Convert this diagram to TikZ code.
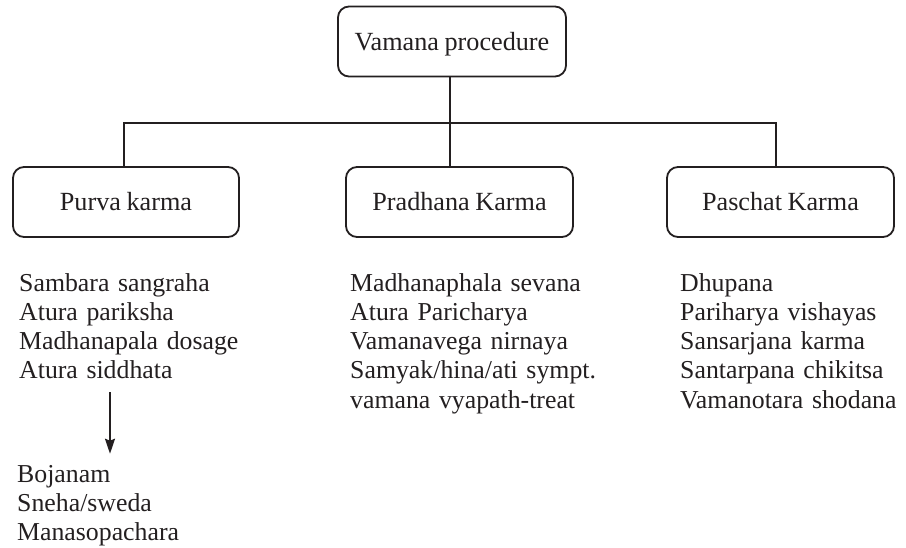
\documentclass[tikz,border=0pt]{standalone}
\usepackage{fontspec}
\setmainfont{Liberation Serif}[WordSpace=0.85]
\usetikzlibrary{arrows.meta}
\definecolor{ink}{HTML}{231F20}
\begin{document}
\begin{tikzpicture}[x=1pt,y=-1pt,
  every node/.style={text=ink},
  stage/.style={draw=ink, line width=1.8pt, rounded corners=11pt,
    minimum height=70pt, inner sep=0pt,
    font=\fontsize{26.2}{29.3}\selectfont, text height=17.5pt, text depth=0pt},
  itemlist/.style={anchor=base west, inner sep=0pt, text width=400pt, align=left,
    font=\fontsize{25.8}{29.3}\selectfont},
  link/.style={draw=ink, line width=1.8pt},
  flow/.style={link, -{Stealth[length=15pt,width=10pt,inset=2pt]},
    shorten <=13pt, shorten >=11pt}]
\useasboundingbox (0,0) rectangle (906,547);

% boxes
\node[stage, minimum width=228pt] (top) at (452,41.5) {Vamana procedure};
\node[stage, minimum width=226pt] (purva) at (126,202) {Purva karma};
\node[stage, minimum width=227pt] (pradhana) at (459.5,202) {Pradhana Karma};
\node[stage, minimum width=227pt] (paschat) at (780.5,202) {Paschat Karma};

% bus junctions
\coordinate (jL) at (124,123);
\coordinate (jM) at (450,123);
\coordinate (jR) at (776,123);

\draw[link] (jM |- top.south) -- (jM);
\draw[link] (jL |- purva.north) -- (jL) -- (jR) -- (jR |- paschat.north);
\draw[link] (jM) -- (jM |- pradhana.north);

% item lists (one line per entry)
\node[itemlist] (purvalist) at (19,291) {Sambara sangraha\\Atura pariksha\\Madhanapala dosage\\Atura siddhata};
\node[itemlist] (pradhanalist) at (350,291) {Madhanaphala sevana\\Atura Paricharya\\Vamanavega nirnaya\\Samyak/hina/ati sympt.\\vamana vyapath-treat};
\node[itemlist] (paschatlist) at (680,291) {Dhupana\\Pariharya vishayas\\Sansarjana karma\\Santarpana chikitsa\\Vamanotara shodana};
\node[itemlist] (lowlist) at (17,482) {Bojanam\\Sneha/sweda\\Manasopachara};

\coordinate (ax) at (110,420);
\draw[flow] (purvalist.south -| ax) -- (lowlist.north -| ax);
\end{tikzpicture}
\end{document}
